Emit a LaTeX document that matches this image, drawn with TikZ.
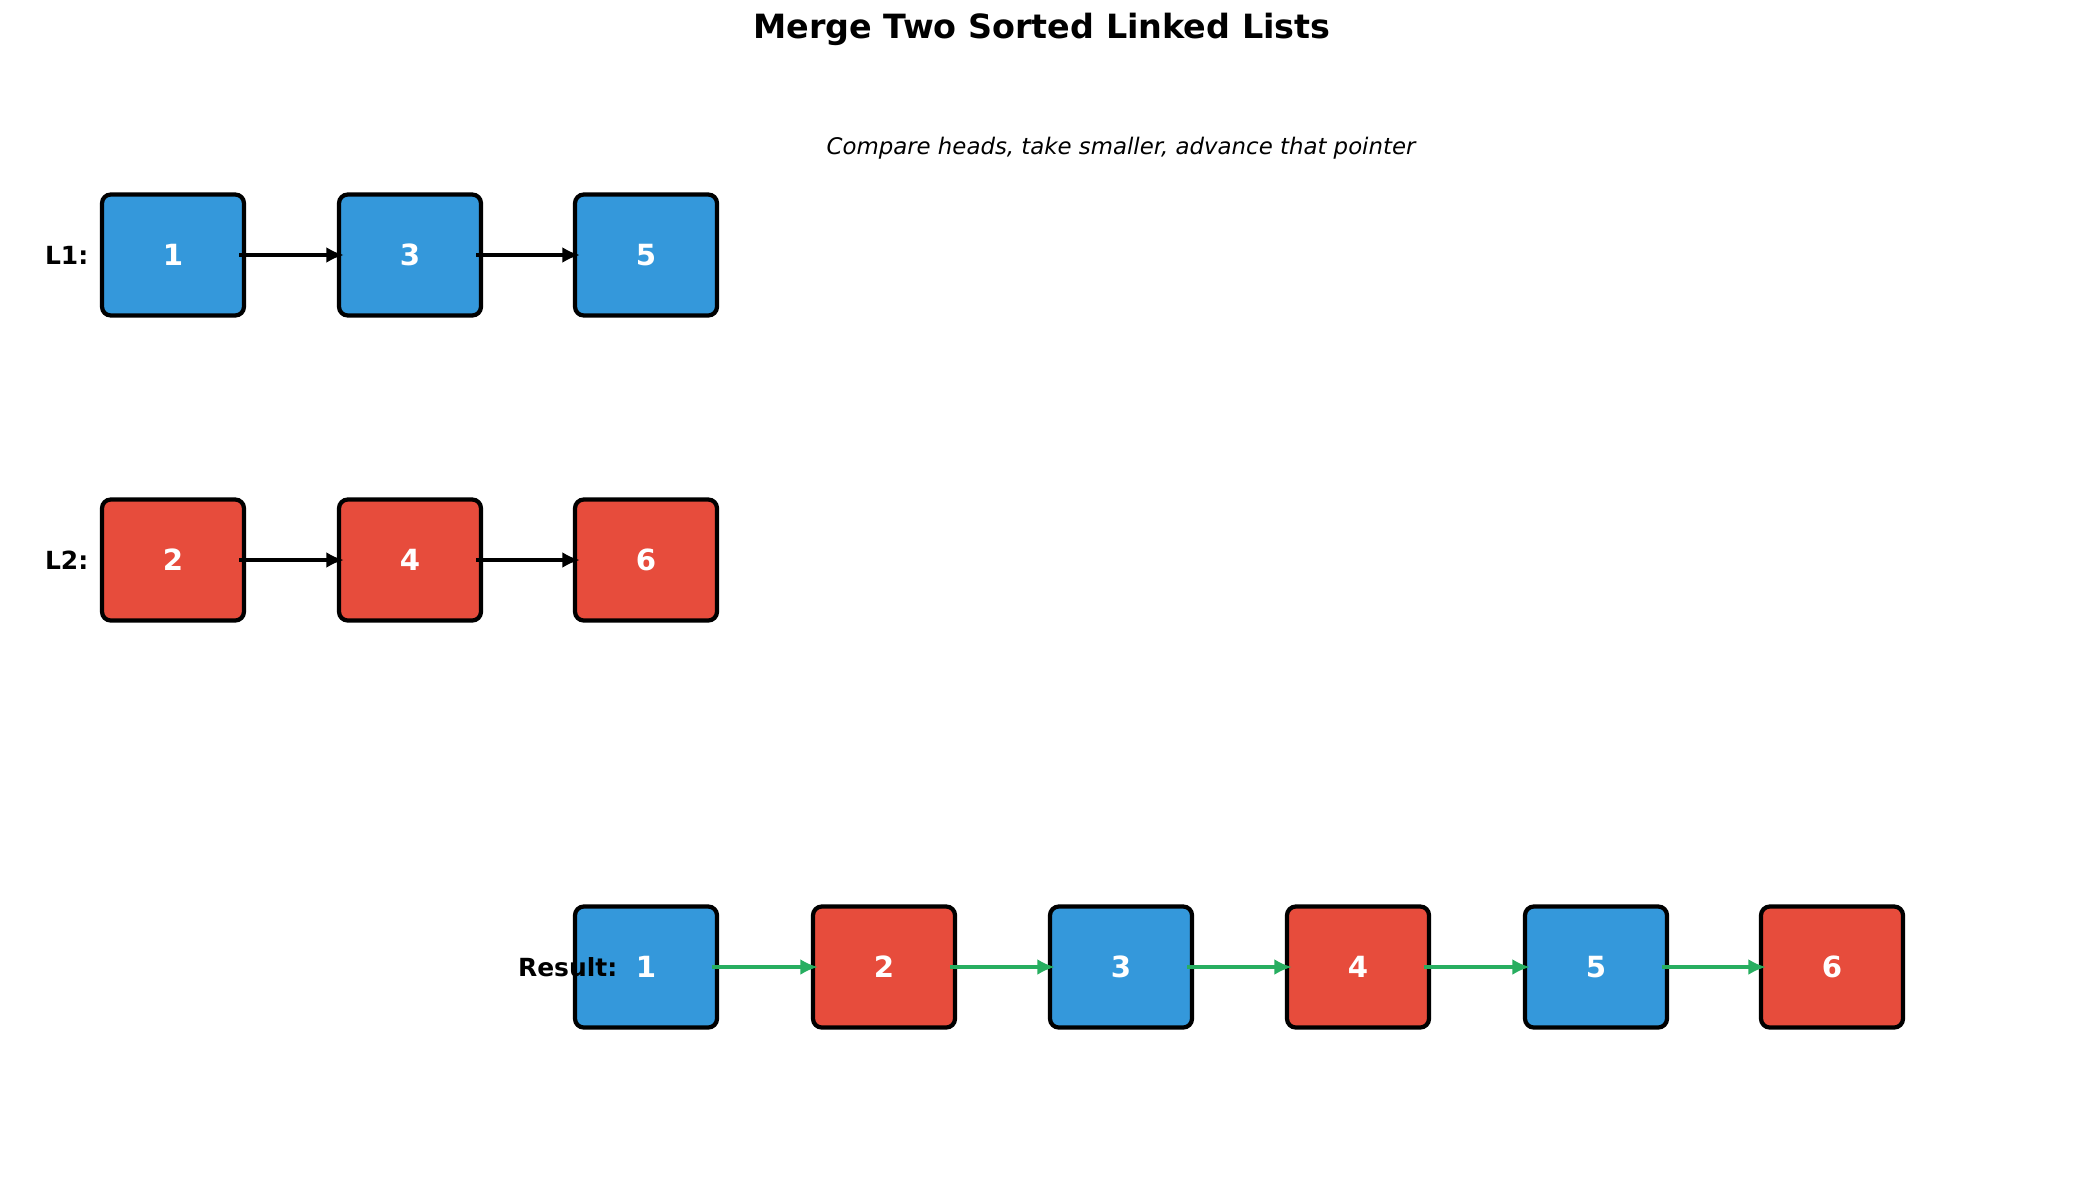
\documentclass[tikz,border=0pt]{standalone}
\usepackage{fontspec}
\setmainfont{DejaVu Sans}
\usetikzlibrary{arrows.meta}
\definecolor{lblue}{HTML}{3498DB}
\definecolor{lred}{HTML}{E74C3C}
\definecolor{lgreen}{HTML}{27AE60}
\tikzset{
  listnode/.style={draw=black, line width=1.2pt, rounded corners=2.5pt,
    minimum width=1.42cm, minimum height=1.21cm, inner sep=0pt,
    text=white, font=\fontsize{8.3}{10}\selectfont\bfseries},
  listlabel/.style={anchor=east, inner sep=0pt, font=\fontsize{7.1}{9}\selectfont\bfseries},
  ptr/.style={line width=0.9pt, shorten <=-2pt, shorten >=-2pt, -{Latex[length=5pt,width=4.5pt]}},
}
\begin{document}
\begin{tikzpicture}
  \useasboundingbox (0,0) rectangle (20.85,11.85);
  \node[font=\fontsize{9.5}{11}\selectfont\bfseries] (title) at (10.42,11.56) {Merge Two Sorted Linked Lists};
  \node[font=\fontsize{6.5}{8}\selectfont\itshape] (sub) at (11.21,10.37) {Compare heads, take smaller, advance that pointer};
  % list 1
  \node[listnode, fill=lblue] (a1) at (1.73,9.30) {1};
  \node[listnode, fill=lblue] (a3) at (4.10,9.30) {3};
  \node[listnode, fill=lblue] (a5) at (6.46,9.30) {5};
  \node[listlabel] (l1) at (0.89,9.30) {L1:};
  \draw [ptr] (a1.east) -- (a3.west);
  \draw [ptr] (a3.east) -- (a5.west);
  % list 2
  \node[listnode, fill=lred] (b2) at (1.73,6.25) {2};
  \node[listnode, fill=lred] (b4) at (4.10,6.25) {4};
  \node[listnode, fill=lred] (b6) at (6.46,6.25) {6};
  \node[listlabel] (l2) at (0.89,6.25) {L2:};
  \draw [ptr] (b2.east) -- (b4.west);
  \draw [ptr] (b4.east) -- (b6.west);
  % merged
  \node[listnode, fill=lblue] (r1) at (6.46,2.18) {1};
  \node[listnode, fill=lred] (r2) at (8.84,2.18) {2};
  \node[listnode, fill=lblue] (r3) at (11.21,2.18) {3};
  \node[listnode, fill=lred] (r4) at (13.58,2.18) {4};
  \node[listnode, fill=lblue] (r5) at (15.96,2.18) {5};
  \node[listnode, fill=lred] (r6) at (18.32,2.18) {6};
  \node[listlabel] (res) at (6.18,2.18) {Result:};
  \foreach \i/\j in {1/2,2/3,3/4,4/5,5/6}
    \draw [ptr, lgreen] (r\i.east) -- (r\j.west);
\end{tikzpicture}
\end{document}
